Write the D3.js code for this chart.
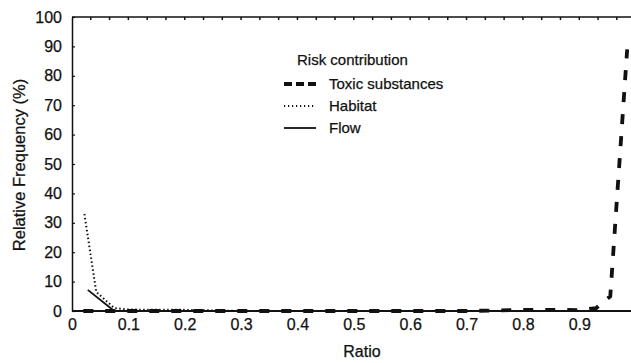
<!DOCTYPE html>
<html>
<head>
<meta charset="utf-8">
<script src="https://cdn.jsdelivr.net/npm/d3@7"></script>
<style>
	body { margin: 0; background: #fff; }
	text { font-family: "Liberation Sans", Arial, sans-serif; fill: #111; stroke: #111; stroke-width: 0.25px; }
</style>
</head>
<body>
<svg id="svg1"></svg>
<script>
// series
toxicRatio = [0.02, 0.1, 0.2, 0.3, 0.4, 0.5, 0.6, 0.7, 0.8, 0.87, 0.9, 0.93, 0.955, 0.985];
toxicFreq = [0, 0, 0, 0, 0, 0, 0, 0, 0.4, 0.4, 0.3, 1, 5, 89];

habitatRatio = [0.022, 0.043, 0.075, 0.1, 0.15, 0.2, 0.25, 0.3, 0.99];
habitatFreq = [33, 6.5, 1, 0.5, 0.4, 0.4, 0.2, 0, 0];

flowRatio = [0.028, 0.075, 0.99];
flowFreq = [7.2, 0, 0];

xTicks = [0, 0.1, 0.2, 0.3, 0.4, 0.5, 0.6, 0.7, 0.8, 0.9];
xTickLabels = ["0", "0.1", "0.2", "0.3", "0.4", "0.5", "0.6", "0.7", "0.8", "0.9"];
yTicks = [0, 10, 20, 30, 40, 50, 60, 70, 80, 90, 100];
topTicks = d3.range(1, 30).map(i => i / 30);

legendNames = ["Toxic substances", "Habitat", "Flow"];

settings = {
	width: 631,
	height: 363,
	left: 72,
	right: 630,
	top: 17,
	bottom: 311
}

var x = d3.scaleLinear().domain([0, 0.99]).range([settings.left, settings.right]);
var y = d3.scaleLinear().domain([0, 100]).range([settings.bottom, settings.top]);

svg = d3.select("#svg1")
	.attr("width", settings.width)
	.attr("height", settings.height)

// top border with small inner ticks
svg.append("line")
	.attr("x1", settings.left).attr("x2", settings.right + 1)
	.attr("y1", settings.top).attr("y2", settings.top)
	.attr("stroke", "#111").attr("stroke-width", 1.5)
svg.append("g")
	.selectAll("line").data(topTicks).enter().append("line")
	.attr("x1", d => x(d)).attr("x2", d => x(d))
	.attr("y1", settings.top).attr("y2", settings.top + 3)
	.attr("stroke", "#111").attr("stroke-width", 1.5)

// left axis
var yAxis = svg.append("g")
	.attr("transform", "translate(" + settings.left + ",0)")
	.call(d3.axisLeft(y).tickValues(yTicks).tickSize(-3).tickPadding(10).tickSizeOuter(0))
yAxis.select(".domain").attr("stroke", "#111").attr("stroke-width", 1.5)
yAxis.selectAll(".tick line").attr("stroke", "#111").attr("stroke-width", 1.2)
yAxis.selectAll("text").style("font-size", "16px").attr("fill", "#111")

// bottom axis
var xAxis = svg.append("g")
	.attr("transform", "translate(0," + settings.bottom + ")")
	.call(d3.axisBottom(x).tickValues(xTicks).tickFormat((d, i) => xTickLabels[i]).tickSize(0).tickPadding(8).tickSizeOuter(0))
xAxis.select(".domain").attr("stroke", "#111").attr("stroke-width", 2)
	.attr("d", "M" + settings.left + ",0H" + (settings.right + 1))
xAxis.selectAll("text").style("font-size", "16px").attr("fill", "#111")

// lines
var lineGen = d3.line().x(d => x(d[0])).y(d => y(d[1]));

series = [
	{ name: legendNames[0], data: d3.zip(toxicRatio, toxicFreq), width: 3.8, dash: "10,12", cap: "butt" },
	{ name: legendNames[1], data: d3.zip(habitatRatio, habitatFreq), width: 2, dash: "1.5,2.5", cap: "butt" },
	{ name: legendNames[2], data: d3.zip(flowRatio, flowFreq), width: 1.8, dash: null, cap: "butt" }
]

svg.append("g")
	.selectAll("path").data(series).enter().append("path")
	.attr("d", d => lineGen(d.data))
	.attr("fill", "none")
	.attr("stroke", "#111")
	.attr("stroke-width", d => d.width)
	.attr("stroke-dasharray", d => d.dash)
	.attr("stroke-linecap", d => d.cap)

// legend
var legend = svg.append("g")
legend.append("text")
	.attr("x", 297).attr("y", 65)
	.style("font-size", "15px")
	.text("Risk contribution")

var items = legend.selectAll("g").data(series).enter().append("g")
	.attr("transform", (d, i) => "translate(0," + (84 + i * 22) + ")")
items.append("line")
	.attr("x1", 284).attr("x2", 316)
	.attr("y1", 0).attr("y2", 0)
	.attr("stroke", "#111")
	.attr("stroke-width", d => d.width)
	.attr("stroke-dasharray", d => d.dash ? (d.width > 3 ? "8,4" : "1.2,2.8") : null)
items.append("text")
	.attr("x", 329).attr("y", 5)
	.style("font-size", "15px")
	.text(d => d.name)

// axis titles
svg.append("text")
	.attr("x", 362).attr("y", 357)
	.attr("text-anchor", "middle")
	.style("font-size", "16px")
	.text("Ratio")

svg.append("text")
	.attr("transform", "translate(25,165) rotate(-90)")
	.attr("text-anchor", "middle")
	.style("font-size", "16.5px")
	.text("Relative Frequency (%)")
</script>
</body>
</html>
